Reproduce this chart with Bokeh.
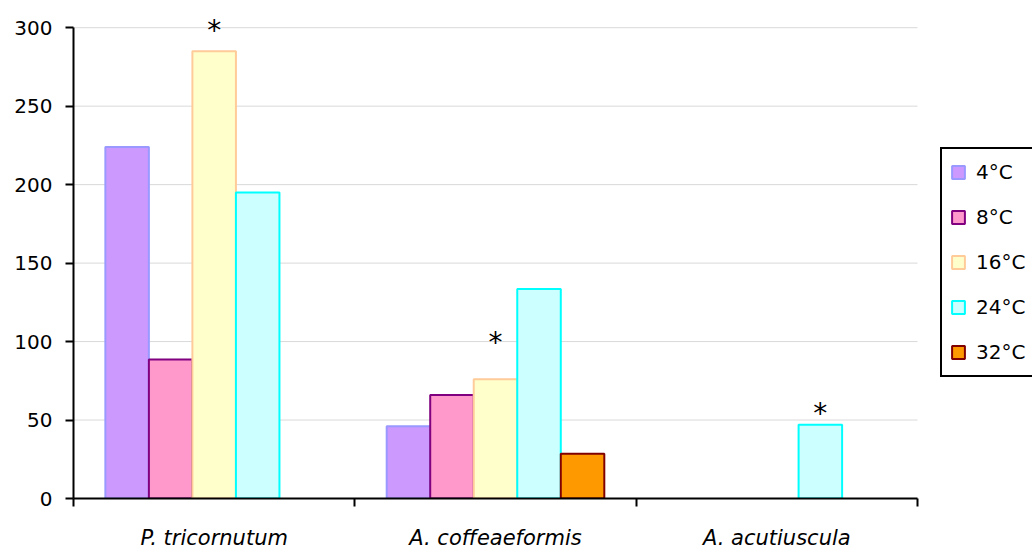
from bokeh.plotting import figure
from bokeh.models import (ColumnDataSource, Range1d, FixedTicker, Legend, LegendItem)
from bokeh.core.properties import value
from bokeh.embed import file_html
from bokeh.resources import INLINE

# ---- data ----
species = ["P. tricornutum", "A. coffeaeformis", "A. acutiuscula"]
temps = ["4°C", "8°C", "16°C", "24°C", "32°C"]
v_4 = [224, 46, None]
v_8 = [88.5, 66, None]
v_16 = [285, 76, None]
v_24 = [195, 133.5, 47]
v_32 = [None, 28.5, None]
series = [v_4, v_8, v_16, v_24, v_32]
y_ticks = [0, 50, 100, 150, 200, 250, 300]
# significance markers: (species index, temperature index, marker height)
star_species = [0, 1, 2]
star_temp = [2, 2, 3]
star_y = [302, 103.5, 57.8]

fills = ["#CC99FF", "#FF99CC", "#FFFFCC", "#CCFFFF", "#FF9900"]
lines = ["#9999FF", "#800080", "#FFCC99", "#00FFFF", "#800000"]

BAR_W = 0.1547
GAP = (1 - BAR_W * len(temps)) / 2
N = len(species)


def xpos(i, j):
    return i + GAP + (j + 0.5) * BAR_W


W, H = 1032, 552
LEFT, BOTTOM = 73, 54
frame_w = W - LEFT
px_per_cat = 844 / N
x_end = frame_w / px_per_cat
y_end = (H - BOTTOM) / (498 - 27.2) * 300

p = figure(width=W, height=H, output_backend="svg", toolbar_location=None,
           x_range=Range1d(0, x_end), y_range=Range1d(0, y_end),
           min_border_left=LEFT, min_border_right=0, min_border_top=0,
           min_border_bottom=BOTTOM)
p.outline_line_color = None
p.background_fill_color = "white"
p.xgrid.grid_line_color = None
p.ygrid.grid_line_color = None

# horizontal grid lines limited to the category span
gsrc = ColumnDataSource(dict(x0=[0] * (len(y_ticks) - 1), x1=[N] * (len(y_ticks) - 1),
                             y=y_ticks[1:]))
p.segment(x0="x0", y0="y", x1="x1", y1="y", source=gsrc,
          line_color="#d9d9d9", line_width=1)

items = []
for j, (t, vals) in enumerate(zip(temps, series)):
    xs = [xpos(i, j) for i, v in enumerate(vals) if v is not None]
    tops = [v for v in vals if v is not None]
    src = ColumnDataSource(dict(x=xs, top=tops))
    r = p.vbar(x="x", top="top", width=BAR_W, bottom=0, source=src,
               fill_color=fills[j], line_color=lines[j], line_width=2)
    items.append(LegendItem(label=t, renderers=[r]))

star_src = ColumnDataSource(dict(
    x=[xpos(i, j) for i, j in zip(star_species, star_temp)],
    y=star_y, t=["*"] * len(star_y)))
p.text(x="x", y="y", text="t", source=star_src, text_align="center",
       text_baseline="middle", y_offset=6, text_font=value("DejaVu Sans"),
       text_font_size="28px", text_color="black")

# y axis
p.yaxis.ticker = FixedTicker(ticks=y_ticks)
p.yaxis.bounds = (0, 300)
p.yaxis.axis_line_width = 2
p.yaxis.major_tick_out = 8
p.yaxis.major_tick_in = 0
p.yaxis.major_tick_line_width = 2
p.yaxis.minor_tick_line_color = None
p.yaxis.major_label_standoff = 13
p.yaxis.major_label_text_font = "DejaVu Sans"
p.yaxis.major_label_text_font_size = "20px"
p.yaxis.major_label_text_color = "black"

# x axis
p.xaxis.ticker = FixedTicker(ticks=[i + 0.5 for i in range(N)],
                             minor_ticks=list(range(N + 1)))
p.xaxis.bounds = (0, N)
p.xaxis.major_label_overrides = {i + 0.5: s for i, s in enumerate(species)}
p.xaxis.axis_line_width = 2
p.xaxis.major_tick_line_color = None
p.xaxis.major_tick_out = 0
p.xaxis.major_tick_in = 0
p.xaxis.minor_tick_out = 8
p.xaxis.minor_tick_in = 0
p.xaxis.minor_tick_line_width = 2
p.xaxis.minor_tick_line_color = "black"
p.xaxis.major_label_standoff = 19
p.xaxis.major_label_text_font = "DejaVu Sans"
p.xaxis.major_label_text_font_style = "italic"
p.xaxis.major_label_text_font_size = "21px"
p.xaxis.major_label_text_color = "black"

legend = Legend(items=items, location=(867, 121), orientation="vertical",
                border_line_color="black", border_line_width=2, border_line_alpha=1,
                background_fill_color="white", background_fill_alpha=1,
                label_text_font="DejaVu Sans", label_text_font_size="20px",
                label_text_color="black",
                glyph_width=16, glyph_height=16, label_height=30,
                label_standoff=10, spacing=15, padding=8, margin=0)
p.add_layout(legend, "center")

open("out.html", "w").write(file_html(p, INLINE))
